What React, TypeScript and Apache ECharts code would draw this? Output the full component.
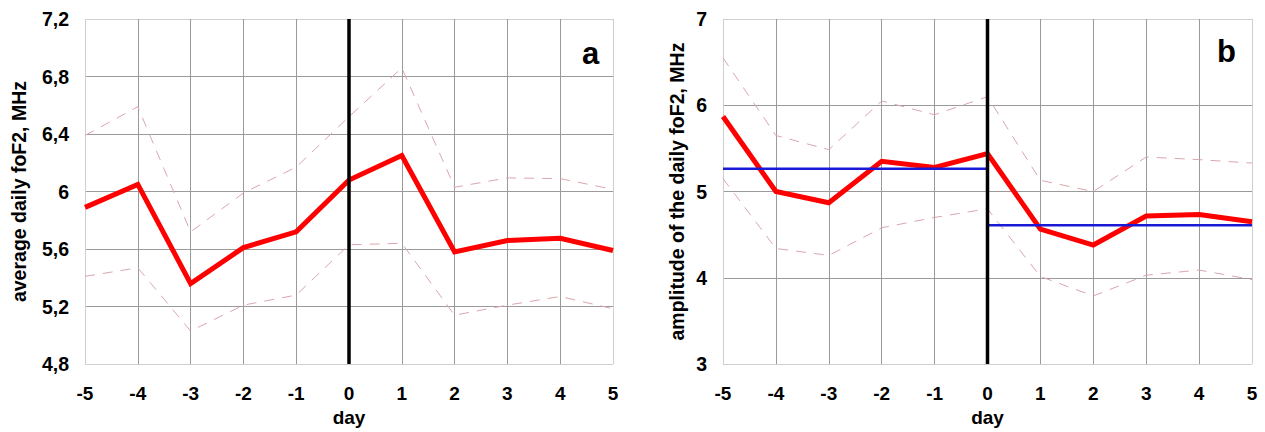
import React, { useEffect, useRef } from "react";
import * as echarts from "echarts";

const days = [-5, -4, -3, -2, -1, 0, 1, 2, 3, 4, 5];
const avgMean = [5.89, 6.05, 5.36, 5.61, 5.72, 6.08, 6.25, 5.58, 5.66, 5.675, 5.59];
const avgUpper = [6.39, 6.59, 5.72, 5.99, 6.17, 6.52, 6.86, 6.03, 6.095, 6.09, 6.015];
const avgLower = [5.41, 5.47, 5.03, 5.21, 5.28, 5.63, 5.64, 5.14, 5.21, 5.27, 5.185];
const ampMean = [5.87, 5.0, 4.87, 5.35, 5.28, 5.44, 4.565, 4.38, 4.716, 4.735, 4.65];
const ampUpper = [6.55, 5.65, 5.485, 6.05, 5.89, 6.1, 5.13, 5.0, 5.4, 5.37, 5.33];
const ampLower = [5.15, 4.34, 4.26, 4.58, 4.7, 4.8, 4.015, 3.79, 4.03, 4.09, 3.98];
const ampBefore = [[-5, 5.265], [0, 5.265]];
const ampAfter = [[0, 4.61], [5, 4.61]];
const avgRange = [4.8, 7.2, 0.4];
const ampRange = [3, 7, 1];
const eventDay = 0;

const FONT = 'Arial, "Liberation Sans", sans-serif';
const pair = (xs: number[], ys: number[]) => xs.map((x, i) => [x, ys[i]]);

const lineColors = (n: number) =>
  Array.from({ length: n }, (_, i) => (i === 0 || i === n - 1 ? "#cfcfcf" : "#9a9a9a"));

export default function App() {
  const ref = useRef<HTMLDivElement>(null);
  useEffect(() => {
    const chart = echarts.init(ref.current!, null, { renderer: "svg" });
    const fmt = (v: number) => {
      const s = (Math.round(v * 10) / 10).toFixed(1);
      return s.endsWith(".0") ? s.slice(0, -2) : s.replace(".", ",");
    };
    const xAxis = (gi: number) => ({
      type: "value",
      gridIndex: gi,
      min: -5,
      max: 5,
      interval: 1,
      name: "day",
      nameLocation: "middle",
      nameGap: 42,
      nameTextStyle: { fontFamily: FONT, fontWeight: "bold", fontSize: 19, color: "#000" },
      axisLine: { show: false },
      axisTick: { show: false },
      axisLabel: { fontFamily: FONT, fontWeight: "bold", fontSize: 19, color: "#000", margin: 20 },
      splitLine: { show: true, lineStyle: { color: lineColors(11), width: 1 } },
    });
    const yAxis = (gi: number, r: number[], name: string, gap: number) => ({
      type: "value",
      gridIndex: gi,
      min: r[0],
      max: r[1],
      interval: r[2],
      name,
      nameLocation: "middle",
      nameGap: gap,
      nameTextStyle: { fontFamily: FONT, fontWeight: "bold", fontSize: 19.5, color: "#000" },
      axisLine: { show: false },
      axisTick: { show: false },
      axisLabel: { fontFamily: FONT, fontWeight: "bold", fontSize: 19.5, color: "#000", margin: 16, formatter: fmt },
      splitLine: {
        show: true,
        lineStyle: { color: lineColors(Math.round((r[1] - r[0]) / r[2]) + 1), width: 1 },
      },
    });
    const dashed = (gi: number, ys: number[]) => ({
      type: "line",
      xAxisIndex: gi,
      yAxisIndex: gi,
      data: pair(days, ys),
      symbol: "none",
      lineStyle: { color: "#d9a6ab", width: 1, type: [10, 8] },
      z: 2,
    });
    const main = (gi: number, ys: number[]) => ({
      type: "line",
      xAxisIndex: gi,
      yAxisIndex: gi,
      data: pair(days, ys),
      symbol: "none",
      lineStyle: { color: "#ff0000", width: 5, join: "miter" },
      z: 3,
    });
    const blue = (data: number[][]) => ({
      type: "line",
      xAxisIndex: 1,
      yAxisIndex: 1,
      data,
      symbol: "none",
      lineStyle: { color: "#1a1ad6", width: 2.5 },
      z: 4,
    });
    const vline = (gi: number, r: number[]) => ({
      type: "line",
      xAxisIndex: gi,
      yAxisIndex: gi,
      data: [[eventDay, r[0]], [eventDay, r[1]]],
      symbol: "none",
      lineStyle: { color: "#000", width: 3.5 },
      z: 5,
    });
    chart.setOption({
      animation: false,
      grid: [
        { left: 85, top: 19, width: 528, height: 352 },
        { left: 723, top: 19, width: 529, height: 352 },
      ],
      xAxis: [xAxis(0), xAxis(1)],
      yAxis: [
        yAxis(0, avgRange, "average daily foF2, MHz", 56),
        yAxis(1, ampRange, "amplitude of the daily foF2, MHz", 36),
      ],
      graphic: [
        { type: "text", left: 582, top: 38, style: { text: "a", font: `bold 31px ${FONT}`, fill: "#000" } },
        { type: "text", left: 1217, top: 36, style: { text: "b", font: `bold 31px ${FONT}`, fill: "#000" } },
      ],
      series: [
        dashed(0, avgUpper),
        dashed(0, avgLower),
        main(0, avgMean),
        vline(0, avgRange),
        dashed(1, ampUpper),
        dashed(1, ampLower),
        main(1, ampMean),
        blue(ampBefore),
        blue(ampAfter),
        vline(1, ampRange),
      ],
    });
    return () => chart.dispose();
  }, []);
  return (
    <div
      ref={ref}
      style={{ position: "fixed", left: 0, top: 0, width: 1265, height: 432, background: "#fff" }}
    />
  );
}
